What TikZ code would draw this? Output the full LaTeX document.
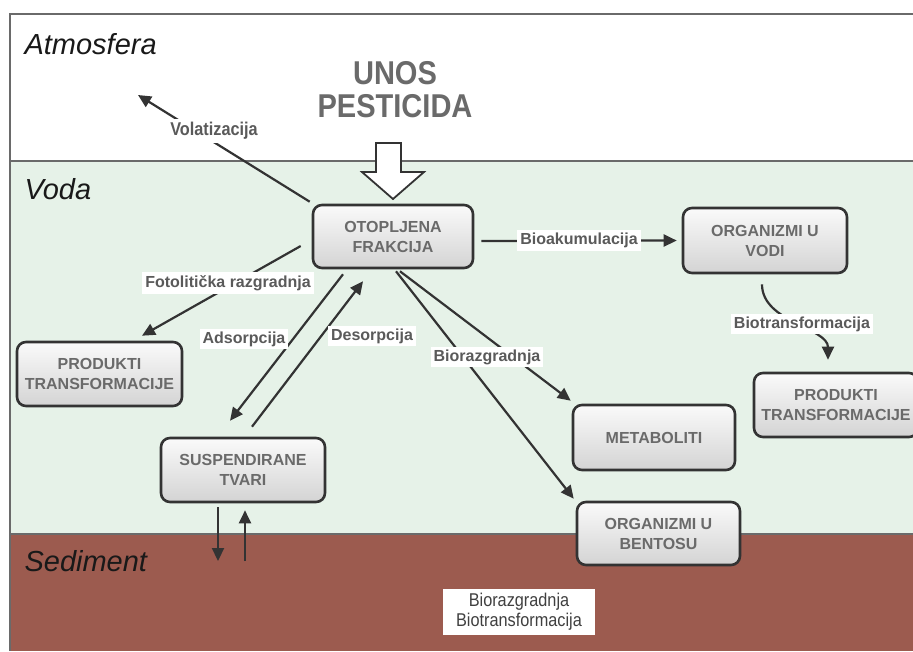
\documentclass[tikz,border=0pt]{standalone}
\usepackage{fontspec}
\setmainfont{Liberation Sans}
\newfontfamily\narrowfont[FakeStretch=0.88]{Liberation Sans}
\usetikzlibrary{arrows.meta,calc}
\definecolor{water}{HTML}{E6F2E8}
\definecolor{sed}{HTML}{9C5B4F}
\definecolor{edgec}{HTML}{333333}
\definecolor{framec}{HTML}{6A6A6A}
\definecolor{boxtxt}{HTML}{6A6A6A}
\definecolor{lbltxt}{HTML}{5A5A5A}
\begin{document}
\begin{tikzpicture}[x=1pt,y=-1pt,
  box/.style={draw=edgec, line width=2.6pt, rounded corners=9pt,
    top color=gray!4, bottom color=gray!34, minimum height=64pt,
    align=center, font=\fontsize{16}{20}\selectfont\bfseries,
    text=boxtxt, inner sep=0pt},
  arr/.style={draw=edgec, line width=2.2pt, -{Triangle[length=13pt,width=12pt]}},
  lbl/.style={fill=white, text=lbltxt, font=\fontsize{16}{19}\selectfont\bfseries, inner sep=3pt},
  nlbl/.style={fill=white, text=lbltxt, font=\narrowfont\fontsize{18.5}{20}\selectfont\bfseries, inner sep=3pt, align=center},
  zone/.style={anchor=west, font=\fontsize{29}{30}\selectfont\itshape, text=black!90}
]
\useasboundingbox (0,0) rectangle (913,651);
% background zones
\fill[white] (0,0) rectangle (913,651);
\fill[water] (10,161) rectangle (913,534);
\fill[sed] (10,534) rectangle (913,651);
\draw[framec, line width=1.5pt] (10,651) -- (10,14) -- (913,14);
\draw[framec, line width=1.5pt] (10,161) -- (913,161);
\draw[framec, line width=1.5pt] (10,534) -- (913,534);

% zone labels
\node[zone] (atm) at (21,44) {Atmosfera};
\node[zone] (voda) at (21,189) {Voda};
\node[zone] (sedm) at (21,561) {Sediment};

% title
\node[font=\narrowfont\fontsize{33}{33}\selectfont\bfseries, text=boxtxt, align=center] (unos) at (395,90) {UNOS\\PESTICIDA};

% hollow input arrow
\draw[edgec, fill=white, line width=1.8pt, line join=miter]
  (376,143) -- (401,143) -- (401,172) -- (424,172) -- (393,199) -- (362,172) -- (376,172) -- cycle;

% boxes
\node[box, minimum width=160pt, minimum height=63pt] (otop) at (393,236.5) {OTOPLJENA\\FRAKCIJA};
\node[box, minimum width=164pt, minimum height=65pt] (orgv) at (765,240.5) {ORGANIZMI U\\VODI};
\node[box, minimum width=165pt, minimum height=64pt] (prodL) at (99.5,374) {PRODUKTI\\TRANSFORMACIJE};
\node[box, minimum width=164pt, minimum height=64pt] (prodR) at (836,405) {PRODUKTI\\TRANSFORMACIJE};
\node[box, minimum width=162pt, minimum height=65pt] (meta) at (654,437.5) {METABOLITI};
\node[box, minimum width=164pt, minimum height=64pt] (susp) at (243,470) {SUSPENDIRANE\\TVARI};
\node[box, minimum width=163pt, minimum height=63pt] (bent) at (658.5,533.5) {ORGANIZMI U\\BENTOSU};

% connectors
\coordinate (volEnd) at (138,95);
\draw[arr] ([xshift=-2pt,yshift=2pt]otop.north west) -- (volEnd);
\node[nlbl] (vollbl) at (214,131) {Volatizacija};

\draw[arr] ([xshift=7pt,yshift=-4.5pt]otop.east) -- node[lbl] (bioak) {Bioakumulacija} ([xshift=-5pt]orgv.west);

\draw[arr] ([xshift=-11pt,yshift=-9.5pt]otop.west) -- ([xshift=42.5pt,yshift=5pt]prodL.north);
\node[lbl] (foto) at (228,283) {Fotolitička razgradnja};

\draw[arr] ([xshift=-50pt,yshift=-5pt]otop.south) -- ([xshift=-13pt,yshift=16pt]susp.north);
\draw[arr] ([xshift=9pt,yshift=10pt]susp.north) -- ([xshift=-30pt,yshift=-12pt]otop.south);
\node[lbl] (adsl) at (244,339) {Adsorpcija};
\node[lbl] (desl) at (372,336) {Desorpcija};

\draw[arr] ([xshift=7pt,yshift=-2pt]otop.south) -- ([xshift=-1pt,yshift=3pt]meta.north west);
\draw[arr] ([xshift=3pt,yshift=-2pt]otop.south) -- ([xshift=-2pt,yshift=2pt]bent.north west);
\node[lbl] (biorl) at (487,357) {Biorazgradnja};

\draw[arr] ([xshift=-3pt,yshift=-10pt]orgv.south) .. controls +(0,38) and +(0,-32) .. ([xshift=-8pt,yshift=12pt]prodR.north);
\node[lbl] (biotl) at (802,324) {Biotransformacija};

\coordinate (dEnd) at (218,561);
\coordinate (uStart) at (245,561);
\draw[arr] ([xshift=-25pt,yshift=-4pt]susp.south) -- (dEnd);
\draw[arr] (uStart) -- ([xshift=2pt,yshift=-7pt]susp.south);

\node[nlbl, text=black!75, font=\narrowfont\fontsize{18.5}{20}\selectfont, inner sep=4pt, minimum width=152pt] (sedlbl) at (519,612) {Biorazgradnja\\Biotransformacija};
\end{tikzpicture}
\end{document}
